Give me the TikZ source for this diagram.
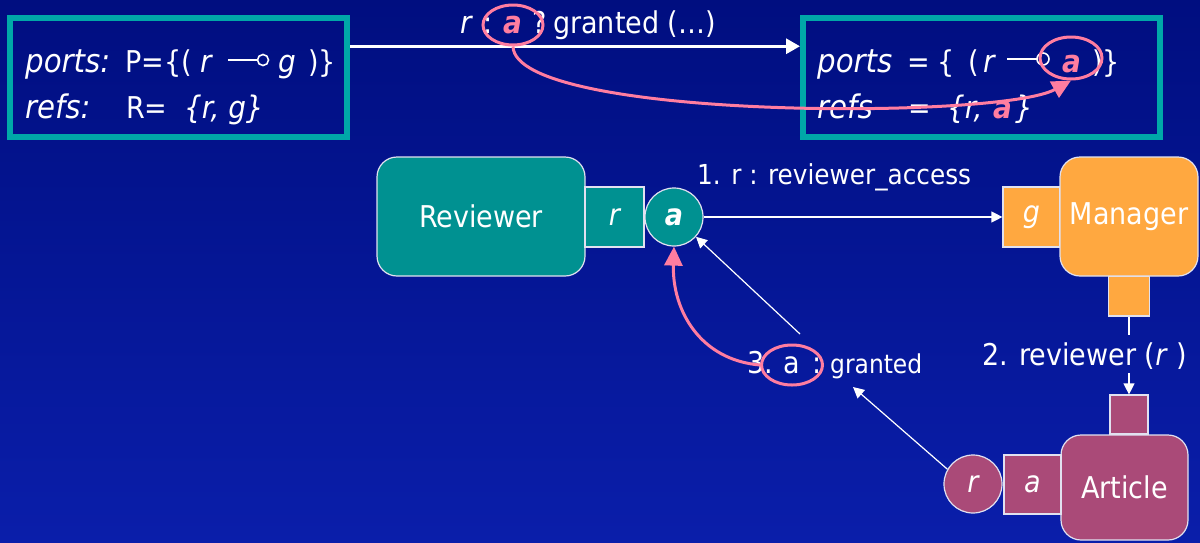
\documentclass[tikz,border=0pt]{standalone}
\usepackage{fontspec}
\setmainfont{DejaVu Sans Condensed}[
  ItalicFont={DejaVu Sans Condensed Oblique},
  BoldFont={DejaVu Sans Condensed Bold},
  BoldItalicFont={DejaVu Sans Condensed Bold Oblique}]
\usetikzlibrary{arrows.meta,shapes.geometric,calc}

\definecolor{bgtop}{RGB}{0,14,128}
\definecolor{bgbot}{RGB}{10,30,170}
\definecolor{frameteal}{RGB}{0,168,168}
\definecolor{tealfill}{RGB}{0,145,145}
\definecolor{orangefill}{RGB}{255,168,64}
\definecolor{plumfill}{RGB}{170,74,120}
\definecolor{pinkline}{RGB}{255,125,160}
\definecolor{edgeline}{RGB}{225,225,240}

\tikzset{
  txt/.style={anchor=base west, inner sep=0pt, text=white, font=\fontsize{30}{36}\selectfont},
  itxt/.style={txt, font=\fontsize{31}{36}\selectfont\itshape},
  keyword/.style={txt, font=\fontsize{32.5}{38}\selectfont\itshape},
  smalltxt/.style={txt, font=\fontsize{26}{32}\selectfont},
  hot/.style={text=pinkline, font=\fontsize{31}{36}\selectfont\bfseries\itshape},
  statebox/.style={draw=frameteal, line width=6pt, rectangle, minimum width=#1, minimum height=119, inner sep=0pt},
  block/.style={draw=edgeline, line width=1.2pt, rounded corners=20pt, inner sep=0pt, text=white,
    font=\fontsize{30}{36}\selectfont},
  portsq/.style={draw=edgeline, line width=1.2pt, inner sep=0pt, text=white,
    font=\fontsize{30}{36}\selectfont\itshape},
  portcirc/.style={draw=edgeline, line width=1.2pt, circle, minimum size=58, inner sep=0pt, text=white,
    font=\fontsize{30}{36}\selectfont\itshape},
  hilite/.style={draw=pinkline, line width=3pt, ellipse, inner sep=0pt},
  thinarrow/.style={draw=white, line width=1.2pt, -{Triangle[length=11pt,width=11pt]}},
  thinline/.style={draw=white, line width=1.2pt},
  bigarrow/.style={draw=white, line width=3pt, -{Triangle[length=14pt,width=15pt]}},
  pinkarrow/.style={draw=pinkline, line width=3pt, -{Triangle[length=19pt,width=18pt]}},
}

\begin{document}
\begin{tikzpicture}[x=1pt,y=-1pt]
% backdrop
\fill[top color=bgtop, bottom color=bgbot] (0,0) rectangle (1200,542);
\useasboundingbox (0,0) rectangle (1200,542);

% ---- state before / after ----
\node[statebox=337] (lbox) at (178.5,77.5) {};
\node[statebox=357] (rbox) at (981.5,77.5) {};

% left state text
\node[keyword] (lp1) at (25,72) {ports:};
\node[txt] (lp2) at (125,72) {P=\{(};
\node[itxt] (lp3) at (200,72) {r};
\draw[white, line width=2pt] (228,60) -- (257,60);
\draw[white, line width=1.6pt] (263,60) circle[radius=5.5pt];
\node[itxt] (lp4) at (278,72) {g};
\node[txt] (lp5) at (308,72) {)\}};
\node[keyword] (lr1) at (25,118) {refs:};
\node[txt] (lr2) at (126,118) {R=};
\node[itxt] (lr3) at (184,118) {\{r, g\}};

% right state text
\node[keyword] (rp1) at (817,72) {ports};
\node[txt] (rp2) at (907,72) {=};
\node[txt] (rp3) at (937,72) {\{};
\node[txt] (rp4) at (968,72) {(};
\node[itxt] (rp5) at (983,72) {r};
\draw[white, line width=2pt] (1007,59) -- (1037,59);
\draw[white, line width=1.6pt] (1043,59) circle[radius=6pt];
\node[txt, hot] (rp6) at (1062,72) {a};
\node[txt] (rp7) at (1092,72) {)\}};
\node[keyword] (rr1) at (817,118) {refs};
\node[txt] (rr2) at (908,118) {=};
\node[itxt] (rr3) at (947,118) {\{r,};
\node[txt, hot] (rr4) at (993,118) {a};
\node[itxt] (rr5) at (1015,118) {\}};

% transition label
\node[itxt] (tl1) at (460,33) {r};
\node[txt] (tl2) at (483,33) {:};
\node[txt, hot] (tl3) at (503,33) {a};
\node[txt] (tl4) at (532,33) {?};
\node[txt] (tl5) at (553,33) {granted (…)};

\draw[bigarrow] ($(lbox.north east)!0.25!(lbox.south east)$) -- ($(rbox.north west)!0.25!(rbox.south west)$);

% ---- components ----
\node[block, fill=tealfill, minimum width=208, minimum height=119] (reviewer) at (481,216.5) {Reviewer};
\node[portsq, fill=tealfill, minimum width=59, minimum height=60] (rport) at (614.5,217) {r};
\node[portcirc, fill=tealfill, font=\fontsize{30}{36}\selectfont\bfseries\itshape] (acirc) at (674,217) {a};

\node[portsq, fill=orangefill, minimum width=57, minimum height=60] (gport) at (1031.5,217) {g};
\node[portsq, fill=orangefill, minimum width=41, minimum height=40] (mport) at (1129,296) {};
\node[block, fill=orangefill, minimum width=138, minimum height=119] (manager) at (1129,216.5) {Manager};

\node[portsq, fill=plumfill, minimum width=38, minimum height=39] (aport) at (1129,414.5) {};
\node[block, fill=plumfill, minimum width=127, minimum height=105] (article) at (1124.5,487.5) {Article};
\node[portsq, fill=plumfill, minimum width=57, minimum height=59] (artport) at (1032.5,484.5) {a};
\node[portcirc, fill=plumfill] (rcirc) at (973,484) {r};

% ---- messages ----
\draw[thinarrow] (acirc.east) -- (gport.west);
\node[txt, font=\fontsize{27.5}{33}\selectfont] (m1lab) at (697,184) {1. r : reviewer\_access};

\coordinate (m2a) at (1129,335);
\coordinate (m2b) at (1129,373);
\draw[thinline] (mport.south) -- (m2a);
\draw[thinarrow] (m2b) -- (aport.north);
\node[txt] (m2lab) at (982,365) {2. reviewer (\textit{r} )};

\coordinate (m3a) at (853,387);
\coordinate (m3b) at (800,334);
\draw[thinarrow] (rcirc.150) -- (m3a);
\draw[thinarrow] (m3b) -- (acirc.-42);
\node[txt] (m3l1) at (747,373) {3.};
\node[txt] (m3l2) at (783,373) {a};
\node[txt] (m3l3) at (812,373) {:};
\node[smalltxt] (m3l4) at (830,373) {granted};

% ---- highlights ----
\node[hilite, minimum width=60, minimum height=40] (hiA) at (513,25) {};
\node[hilite, minimum width=62, minimum height=42] (hiB) at (1071,58) {};
\node[hilite, minimum width=61, minimum height=40] (hiC) at (792,365) {};

\draw[pinkarrow] (hiA.south) .. controls (515,120) and (1000,120) .. (hiB.south);
\draw[pinkarrow] (hiC.west) .. controls (700,360) and (672,310) .. (acirc.south);
\end{tikzpicture}
\end{document}
